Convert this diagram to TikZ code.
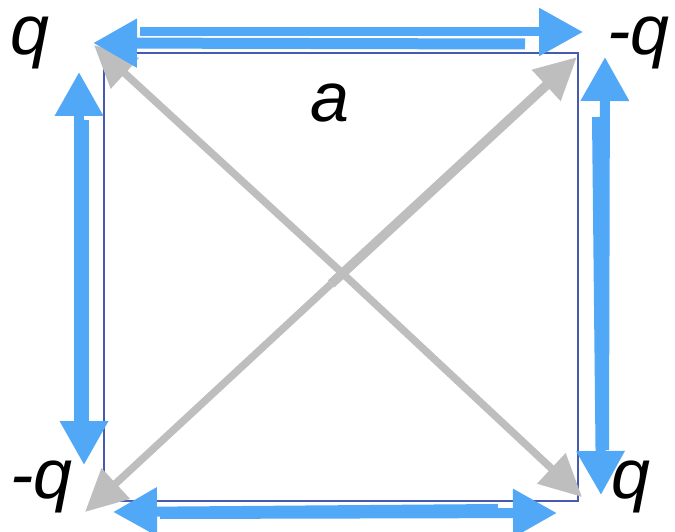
\documentclass[tikz,border=0pt]{standalone}
\usepackage{fontspec}
\setmainfont{Liberation Sans}
\usetikzlibrary{arrows.meta}
\definecolor{bluearr}{RGB}{80,168,247}
\definecolor{grayarr}{RGB}{190,190,190}
\definecolor{sqline}{RGB}{70,90,175}
\tikzset{
  barrow/.style={draw=bluearr, line width=10pt, -{Triangle[length=44pt,width=46pt]}},
  garrow/.style={draw=grayarr, line width=7.5pt, -{Triangle[length=42pt,width=40pt]}},
  lbl/.style={font=\fontsize{70}{76}\selectfont\itshape, inner sep=0pt, anchor=base},
}
\begin{document}
\begin{tikzpicture}[x=1pt,y=-1pt]
\useasboundingbox (0,0) rectangle (675,532);
% square
\coordinate (TL) at (104,53);
\coordinate (TR) at (578,53);
\coordinate (BR) at (578,501);
\coordinate (BL) at (104,501);
\draw[sqline, line width=1.3pt] (TL) -- (TR) -- (BR) -- (BL) -- cycle;
% gray diagonals
\coordinate (g1a) at (94,45);
\coordinate (g1b) at (582,497);
\coordinate (g2a) at (85,512);
\coordinate (g2b) at (577,57);
\coordinate (g1s) at (340,271);
\coordinate (g2s) at (331,284);
\draw[garrow] (g1s) -- (g1a);
\draw[garrow] (g1s) -- (g1b);
\draw[garrow] (g2s) -- (g2a);
\draw[garrow, line width=9.5pt] (g2s) -- (g2b);
% top blue
\coordinate (t1s) at (525,44);
\coordinate (t1e) at (93,43);
\coordinate (t2s) at (140,32);
\coordinate (t2e) at (583,32);
\draw[barrow, line width=11pt] (t1s) -- (t1e);
\draw[barrow, line width=9pt] (t2s) -- (t2e);
% left blue
\coordinate (l1s) at (79,430);
\coordinate (l1e) at (79,72);
\coordinate (l2s) at (84,120);
\coordinate (l2e) at (84,465);
\draw[barrow] (l1s) -- (l1e);
\draw[barrow] (l2s) -- (l2e);
% right blue
\coordinate (r1s) at (604,450);
\coordinate (r1e) at (605,57);
\coordinate (r2s) at (597,117);
\coordinate (r2e) at (601,495);
\draw[barrow] (r1s) -- (r1e);
\draw[barrow] (r2s) -- (r2e);
% bottom blue
\coordinate (b1s) at (498,509);
\coordinate (b1e) at (113,512);
\coordinate (b2s) at (160,514);
\coordinate (b2e) at (557,513);
\draw[barrow] (b1s) -- (b1e);
\draw[barrow] (b2s) -- (b2e);
% labels
\node[lbl, anchor=base west] (qTL) at (10,55) {q};
\node[lbl, anchor=base east] (qTR) at (670,55) {-q};
\node[lbl] (aL) at (330,122) {a};
\node[lbl, anchor=base west] (qBL) at (10,498) {-q};
\node[lbl, anchor=base west] (qBR) at (611,498) {q};
\end{tikzpicture}
\end{document}
